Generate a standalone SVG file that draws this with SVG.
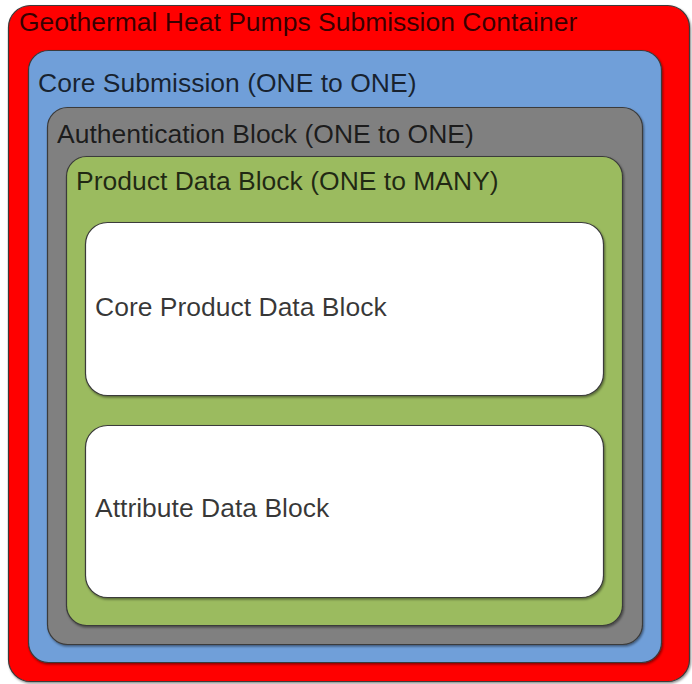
<svg xmlns="http://www.w3.org/2000/svg" width="692" height="684" viewBox="0 0 692 684">
<defs>
<filter id="sh" x="-5%" y="-5%" width="110%" height="110%">
<feDropShadow dx="1" dy="1.5" stdDeviation="1" flood-color="#000" flood-opacity="0.45"/>
</filter>
<style>
.box{stroke:#3a3a3a;stroke-width:1.2;filter:url(#sh)}
.lbl{font-family:"Liberation Sans",Arial,sans-serif;font-size:26.5px;fill:#000;fill-opacity:0.78}
</style>
</defs>
<rect width="692" height="684" fill="#fff"/>
<g id="container">
<rect class="box" x="8.5" y="5.5" width="681" height="676" rx="22" fill="#ff0000"/>
<text class="lbl" x="19" y="31">Geothermal Heat Pumps Submission Container</text>
</g>
<g id="core-submission">
<rect class="box" x="28.5" y="50.5" width="633" height="612" rx="20" fill="#6f9fd9"/>
<text class="lbl" x="38" y="92">Core Submission (ONE to ONE)</text>
</g>
<g id="authentication">
<rect class="box" x="47.5" y="107.5" width="595" height="537" rx="20" fill="#808080"/>
<text class="lbl" x="57" y="143">Authentication Block (ONE to ONE)</text>
</g>
<g id="product-data">
<rect class="box" x="66.5" y="156.5" width="556" height="469" rx="20" fill="#9bbb5f"/>
<text class="lbl" x="76" y="190">Product Data Block (ONE to MANY)</text>
</g>
<g id="core-product-data">
<rect class="box" x="85.5" y="222.5" width="518" height="173" rx="22" fill="#ffffff"/>
<text class="lbl" x="95" y="316">Core Product Data Block</text>
</g>
<g id="attribute-data">
<rect class="box" x="85.5" y="425.5" width="518" height="172" rx="22" fill="#ffffff"/>
<text class="lbl" x="95" y="517">Attribute Data Block</text>
</g>
<g id="connectors"></g>
</svg>
